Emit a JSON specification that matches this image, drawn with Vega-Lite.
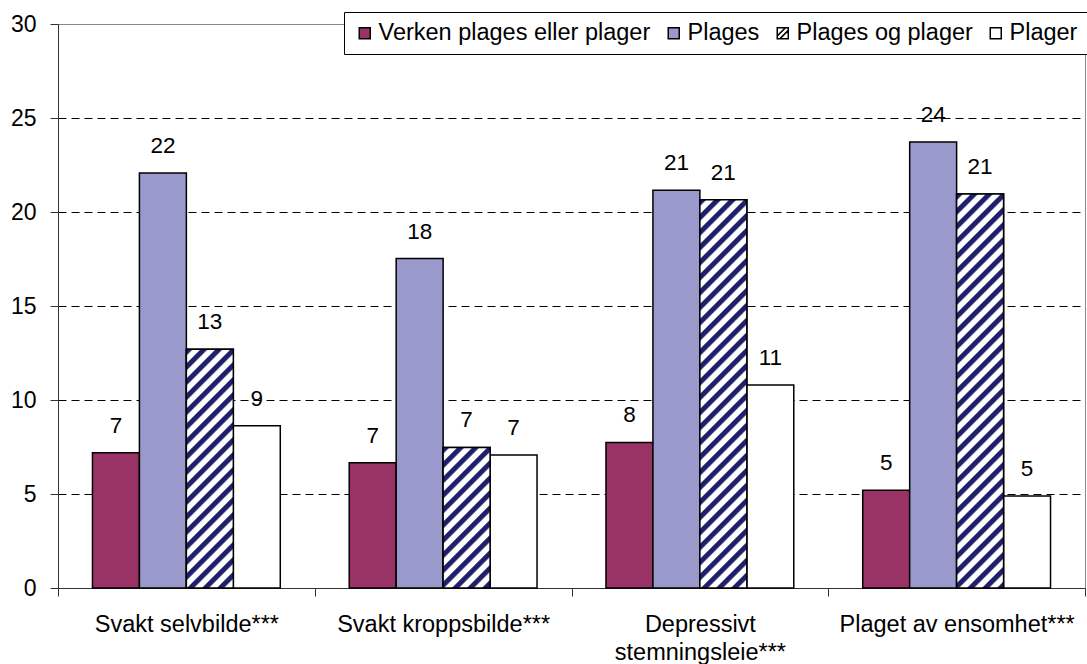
{
  "$schema": "https://vega.github.io/schema/vega-lite/v6.json",
  "width": 1027,
  "height": 564,
  "autosize": "none",
  "padding": {"left": 58, "top": 24, "right": 2, "bottom": 76},
  "background": "white",
  "config": {"view": {"stroke": "#888888", "strokeWidth": 1}, "font": "Liberation Sans"},
  "params": [
    {"name": "hs", "value": [
      {"offset":0,"color":"#1f1f6b"},{"offset":0.0117,"color":"#1f1f6b"},{"offset":0.0167,"color":"#ffffff"},{"offset":0.03,"color":"#ffffff"},
      {"offset":0.0333,"color":"#1f1f6b"},{"offset":0.045,"color":"#1f1f6b"},{"offset":0.05,"color":"#ffffff"},{"offset":0.0633,"color":"#ffffff"},
      {"offset":0.0667,"color":"#1f1f6b"},{"offset":0.0783,"color":"#1f1f6b"},{"offset":0.0833,"color":"#ffffff"},{"offset":0.0967,"color":"#ffffff"},
      {"offset":0.1,"color":"#1f1f6b"},{"offset":0.1117,"color":"#1f1f6b"},{"offset":0.1167,"color":"#ffffff"},{"offset":0.13,"color":"#ffffff"},
      {"offset":0.1333,"color":"#1f1f6b"},{"offset":0.145,"color":"#1f1f6b"},{"offset":0.15,"color":"#ffffff"},{"offset":0.1633,"color":"#ffffff"},
      {"offset":0.1667,"color":"#1f1f6b"},{"offset":0.1783,"color":"#1f1f6b"},{"offset":0.1833,"color":"#ffffff"},{"offset":0.1967,"color":"#ffffff"},
      {"offset":0.2,"color":"#1f1f6b"},{"offset":0.2117,"color":"#1f1f6b"},{"offset":0.2167,"color":"#ffffff"},{"offset":0.23,"color":"#ffffff"},
      {"offset":0.2333,"color":"#1f1f6b"},{"offset":0.245,"color":"#1f1f6b"},{"offset":0.25,"color":"#ffffff"},{"offset":0.2633,"color":"#ffffff"},
      {"offset":0.2667,"color":"#1f1f6b"},{"offset":0.2783,"color":"#1f1f6b"},{"offset":0.2833,"color":"#ffffff"},{"offset":0.2967,"color":"#ffffff"},
      {"offset":0.3,"color":"#1f1f6b"},{"offset":0.3117,"color":"#1f1f6b"},{"offset":0.3167,"color":"#ffffff"},{"offset":0.33,"color":"#ffffff"},
      {"offset":0.3333,"color":"#1f1f6b"},{"offset":0.345,"color":"#1f1f6b"},{"offset":0.35,"color":"#ffffff"},{"offset":0.3633,"color":"#ffffff"},
      {"offset":0.3667,"color":"#1f1f6b"},{"offset":0.3783,"color":"#1f1f6b"},{"offset":0.3833,"color":"#ffffff"},{"offset":0.3967,"color":"#ffffff"},
      {"offset":0.4,"color":"#1f1f6b"},{"offset":0.4117,"color":"#1f1f6b"},{"offset":0.4167,"color":"#ffffff"},{"offset":0.43,"color":"#ffffff"},
      {"offset":0.4333,"color":"#1f1f6b"},{"offset":0.445,"color":"#1f1f6b"},{"offset":0.45,"color":"#ffffff"},{"offset":0.4633,"color":"#ffffff"},
      {"offset":0.4667,"color":"#1f1f6b"},{"offset":0.4783,"color":"#1f1f6b"},{"offset":0.4833,"color":"#ffffff"},{"offset":0.4967,"color":"#ffffff"},
      {"offset":0.5,"color":"#1f1f6b"},{"offset":0.5117,"color":"#1f1f6b"},{"offset":0.5167,"color":"#ffffff"},{"offset":0.53,"color":"#ffffff"},
      {"offset":0.5333,"color":"#1f1f6b"},{"offset":0.545,"color":"#1f1f6b"},{"offset":0.55,"color":"#ffffff"},{"offset":0.5633,"color":"#ffffff"},
      {"offset":0.5667,"color":"#1f1f6b"},{"offset":0.5783,"color":"#1f1f6b"},{"offset":0.5833,"color":"#ffffff"},{"offset":0.5967,"color":"#ffffff"},
      {"offset":0.6,"color":"#1f1f6b"},{"offset":0.6117,"color":"#1f1f6b"},{"offset":0.6167,"color":"#ffffff"},{"offset":0.63,"color":"#ffffff"},
      {"offset":0.6333,"color":"#1f1f6b"},{"offset":0.645,"color":"#1f1f6b"},{"offset":0.65,"color":"#ffffff"},{"offset":0.6633,"color":"#ffffff"},
      {"offset":0.6667,"color":"#1f1f6b"},{"offset":0.6783,"color":"#1f1f6b"},{"offset":0.6833,"color":"#ffffff"},{"offset":0.6967,"color":"#ffffff"},
      {"offset":0.7,"color":"#1f1f6b"},{"offset":0.7117,"color":"#1f1f6b"},{"offset":0.7167,"color":"#ffffff"},{"offset":0.73,"color":"#ffffff"},
      {"offset":0.7333,"color":"#1f1f6b"},{"offset":0.745,"color":"#1f1f6b"},{"offset":0.75,"color":"#ffffff"},{"offset":0.7633,"color":"#ffffff"},
      {"offset":0.7667,"color":"#1f1f6b"},{"offset":0.7783,"color":"#1f1f6b"},{"offset":0.7833,"color":"#ffffff"},{"offset":0.7967,"color":"#ffffff"},
      {"offset":0.8,"color":"#1f1f6b"},{"offset":0.8117,"color":"#1f1f6b"},{"offset":0.8167,"color":"#ffffff"},{"offset":0.83,"color":"#ffffff"},
      {"offset":0.8333,"color":"#1f1f6b"},{"offset":0.845,"color":"#1f1f6b"},{"offset":0.85,"color":"#ffffff"},{"offset":0.8633,"color":"#ffffff"},
      {"offset":0.8667,"color":"#1f1f6b"},{"offset":0.8783,"color":"#1f1f6b"},{"offset":0.8833,"color":"#ffffff"},{"offset":0.8967,"color":"#ffffff"},
      {"offset":0.9,"color":"#1f1f6b"},{"offset":0.9117,"color":"#1f1f6b"},{"offset":0.9167,"color":"#ffffff"},{"offset":0.93,"color":"#ffffff"},
      {"offset":0.9333,"color":"#1f1f6b"},{"offset":0.945,"color":"#1f1f6b"},{"offset":0.95,"color":"#ffffff"},{"offset":0.9633,"color":"#ffffff"},
      {"offset":0.9667,"color":"#1f1f6b"},{"offset":0.9783,"color":"#1f1f6b"},{"offset":0.9833,"color":"#ffffff"},{"offset":0.9967,"color":"#ffffff"},
      {"offset":1,"color":"#1f1f6b"}
    ]}
  ],
  "data": {"values": [
    {"cat": "Svakt selvbilde***", "series": "Verken plages eller plager", "value": 7.2},
    {"cat": "Svakt selvbilde***", "series": "Plages", "value": 22.07},
    {"cat": "Svakt selvbilde***", "series": "Plages og plager", "value": 12.7},
    {"cat": "Svakt selvbilde***", "series": "Plager", "value": 8.63},
    {"cat": "Svakt kroppsbilde***", "series": "Verken plages eller plager", "value": 6.66},
    {"cat": "Svakt kroppsbilde***", "series": "Plages", "value": 17.52},
    {"cat": "Svakt kroppsbilde***", "series": "Plages og plager", "value": 7.48},
    {"cat": "Svakt kroppsbilde***", "series": "Plager", "value": 7.07},
    {"cat": "Depressivt stemningsleie***", "series": "Verken plages eller plager", "value": 7.74},
    {"cat": "Depressivt stemningsleie***", "series": "Plages", "value": 21.16},
    {"cat": "Depressivt stemningsleie***", "series": "Plages og plager", "value": 20.65},
    {"cat": "Depressivt stemningsleie***", "series": "Plager", "value": 10.8},
    {"cat": "Plaget av ensomhet***", "series": "Verken plages eller plager", "value": 5.2},
    {"cat": "Plaget av ensomhet***", "series": "Plages", "value": 23.72},
    {"cat": "Plaget av ensomhet***", "series": "Plages og plager", "value": 20.96},
    {"cat": "Plaget av ensomhet***", "series": "Plager", "value": 4.9}
  ]},
  "encoding": {
    "x": {
      "field": "cat", "type": "nominal",
      "sort": ["Svakt selvbilde***", "Svakt kroppsbilde***", "Depressivt stemningsleie***", "Plaget av ensomhet***"],
      "scale": {"paddingInner": 0, "paddingOuter": 0},
      "axis": {
        "title": null, "labelAngle": 0, "tickBand": "extent", "tickSize": 8, "tickColor": "#333333",
        "domainColor": "#333333", "labelFontSize": 23.5, "labelColor": "black", "labelPadding": 16,
        "labelLineHeight": 28, "labelOverlap": false, "labelLimit": 400,
        "labelExpr": "datum.label == 'Depressivt stemningsleie***' ? ['Depressivt', 'stemningsleie***'] : datum.label"
      }
    },
    "xOffset": {
      "field": "series", "type": "nominal",
      "sort": ["Verken plages eller plager", "Plages", "Plages og plager", "Plager"],
      "scale": {"domain": ["Verken plages eller plager", "Plages", "Plages og plager", "Plager"], "paddingInner": 0, "paddingOuter": 0.734}
    },
    "y": {
      "field": "value", "type": "quantitative",
      "scale": {"domain": [0, 30], "nice": false},
      "axis": {
        "title": null, "values": [0, 5, 10, 15, 20, 25, 30], "tickSize": 8, "tickColor": "#333333",
        "domainColor": "#333333", "labelFontSize": 23, "labelColor": "black", "labelPadding": 14,
        "grid": true, "gridColor": "black", "gridDash": [8, 5], "gridWidth": 1,
        "gridOpacity": {"condition": {"test": "datum.value == 0 || datum.value == 30", "value": 0}, "value": 1}
      }
    }
  },
  "layer": [
    {
      "mark": {"type": "bar", "stroke": "black", "strokeWidth": 1.5},
      "encoding": {
        "color": {
          "field": "series", "type": "nominal",
          "scale": {"domain": ["Verken plages eller plager", "Plages", "Plages og plager", "Plager"], "range": ["#993366", "#9999cc", "#ffffff", "#ffffff"]},
          "legend": {
            "title": null, "orient": "none", "legendX": 286, "legendY": -12, "direction": "horizontal",
            "fillColor": "white", "strokeColor": "black", "padding": 9,
            "symbolType": "square", "symbolSize": 121, "symbolStrokeColor": "black", "symbolStrokeWidth": 1.5,
            "labelFontSize": 23.5, "labelColor": "black", "labelOffset": 2, "columnPadding": 11, "labelLimit": 400,
            "encode": {"symbols": {"update": {
              "shape": {"signal": "datum.value === 'Plages og plager' ? 'M-1,-1H1V1H-1Z M-1,-1V1H1V-1Z M-1,0.5L0.5,-1H1V-0.5L-0.5,1H-1Z' : 'square'"},
              "fill": {"signal": "datum.value === 'Plages og plager' ? '#1f1f6b' : scale('color', datum.value)"},
              "stroke": {"value": "black"},
              "strokeWidth": {"value": 1.5},
              "opacity": {"value": 1},
              "fillOpacity": {"value": 1}
            }}}
          }
        }
      }
    },
    {
      "transform": [{"filter": "datum.series == 'Plages og plager' && datum.cat == 'Svakt selvbilde***'"}],
      "mark": {"type": "bar", "stroke": "black", "strokeWidth": 1.5, "fill": {"expr": "{gradient: 'linear', x1: 0, y1: 0, x2: 0.357, y2: 1.814, stops: hs}"}},
      "encoding": {}
    },
    {
      "transform": [{"filter": "datum.series == 'Plages og plager' && datum.cat == 'Svakt kroppsbilde***'"}],
      "mark": {"type": "bar", "stroke": "black", "strokeWidth": 1.5, "fill": {"expr": "{gradient: 'linear', x1: 0, y1: 0, x2: 0.962, y2: 2.879, stops: hs}"}},
      "encoding": {}
    },
    {
      "transform": [{"filter": "datum.series == 'Plages og plager' && datum.cat == 'Depressivt stemningsleie***'"}],
      "mark": {"type": "bar", "stroke": "black", "strokeWidth": 1.5, "fill": {"expr": "{gradient: 'linear', x1: 0, y1: 0, x2: 0.138, y2: 1.142, stops: hs}"}},
      "encoding": {}
    },
    {
      "transform": [{"filter": "datum.series == 'Plages og plager' && datum.cat == 'Plaget av ensomhet***'"}],
      "mark": {"type": "bar", "stroke": "black", "strokeWidth": 1.5, "fill": {"expr": "{gradient: 'linear', x1: 0, y1: 0, x2: 0.134, y2: 1.126, stops: hs}"}},
      "encoding": {}
    },
    {
      "mark": {"type": "text", "dy": -20, "fontSize": 22.5, "baseline": "alphabetic", "color": "black"},
      "encoding": {"text": {"field": "value", "type": "quantitative", "format": ".0f"}}
    }
  ]
}
